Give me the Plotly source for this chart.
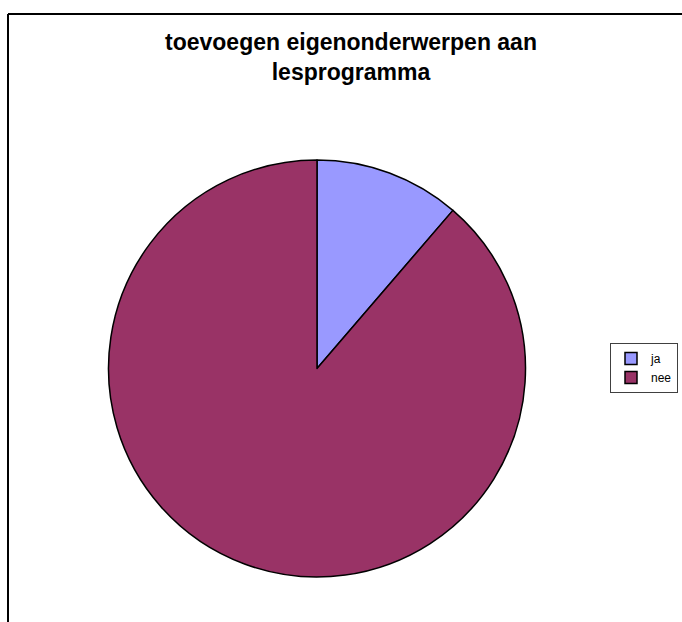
import plotly.graph_objects as go

labels = ["ja", "nee"]
values = [11.3, 88.7]
colors = ["#9999FF", "#993366"]
title_text = "toevoegen eigenonderwerpen aan<br>lesprogramma"

W, H = 682, 622

fig = go.Figure(go.Pie(
    labels=labels,
    values=values,
    marker=dict(colors=colors, line=dict(color="black", width=1.5)),
    sort=False,
    direction="clockwise",
    rotation=0,
    textinfo="none",
    hoverinfo="label+value",
    domain=dict(x=[108 / W, 526 / W], y=[1 - 577 / H, 1 - 160 / H]),
))

fig.update_layout(
    width=W, height=H,
    margin=dict(l=0, r=0, t=0, b=0, autoexpand=False),
    paper_bgcolor="white",
    plot_bgcolor="white",
    title=dict(
        text="<b>" + title_text + "</b>",
        x=351 / W, xref="paper", xanchor="center",
        y=1 - 50 / H, yref="paper", yanchor="top",
        font=dict(family="Liberation Sans, Arial, sans-serif", size=23, color="black"),
    ),
    legend=dict(
        x=678 / W, y=1 - 343 / H, xanchor="right", yanchor="top",
        bordercolor="#404040", borderwidth=1,
        bgcolor="white",
        font=dict(family="Liberation Sans, Arial, sans-serif", size=12, color="black"),
        itemwidth=30,
        tracegroupgap=0,
    ),
    shapes=[
        dict(type="line", xref="paper", yref="paper",
             x0=8 / W, x1=1.0, y0=1 - 14 / H, y1=1 - 14 / H,
             line=dict(color="black", width=2)),
        dict(type="line", xref="paper", yref="paper",
             x0=8 / W, x1=8 / W, y0=1 - 14 / H, y1=0,
             line=dict(color="black", width=2)),
    ],
)

fig.write_html(
    "out.html",
    config={"displayModeBar": False},
    post_script="document.body.style.margin='0';document.body.style.overflow='hidden';",
)
